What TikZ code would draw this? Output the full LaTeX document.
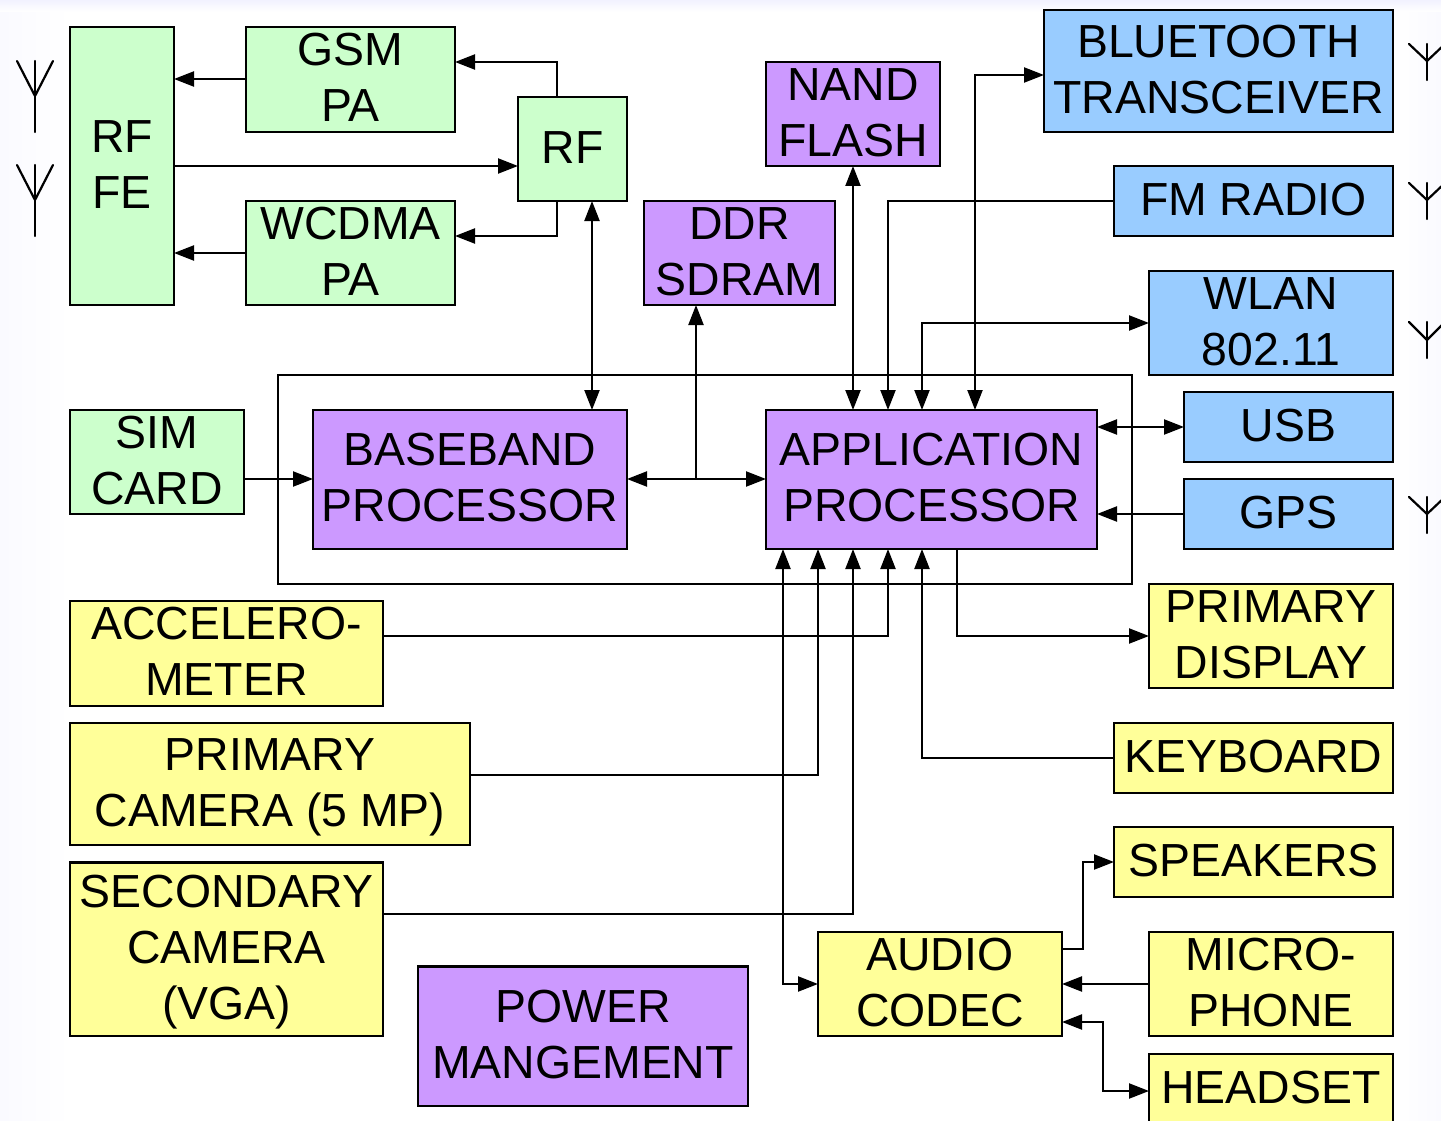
\documentclass[tikz,border=0pt]{standalone}
\usepackage{fontspec}
\setmainfont{Liberation Sans}
\usetikzlibrary{arrows.meta,calc}
\definecolor{cgreen}{HTML}{CCFFCC}
\definecolor{cpurple}{HTML}{CC99FF}
\definecolor{cblue}{HTML}{99CCFF}
\definecolor{cyellow}{HTML}{FFFF99}
\tikzset{
  box/.style={draw=black,line width=2.2pt,inner sep=0pt,outer sep=0pt,text=black,font=\fontsize{46.4}{56}\selectfont},
  gbox/.style={box,fill=cgreen},
  pbox/.style={box,fill=cpurple},
  bbox/.style={box,fill=cblue},
  ybox/.style={box,fill=cyellow},
  conn/.style={draw=black,line width=2.2pt},
  arr/.style={conn,-{Triangle[length=20pt,width=15pt]}},
  biarr/.style={conn,{Triangle[length=20pt,width=15pt]}-{Triangle[length=20pt,width=15pt]}},
  ant/.style={draw=black,line width=2.2pt,line cap=round},
}
\newsavebox{\lblbox}
\newcommand{\bx}[7]{% style,name,x1,y1,x2,y2,text
  \pgfmathsetmacro{\bw}{#5-#3}\pgfmathsetmacro{\bh}{#6-#4}
  \pgfmathsetmacro{\bcx}{(#3+#5)/2}\pgfmathsetmacro{\bcy}{(#4+#6)/2}
  \node[#1,minimum width=\bw pt,minimum height=\bh pt] (#2) at (\bcx,\bcy) {\sbox{\lblbox}{\begin{tabular}{@{}c@{}}#7\end{tabular}}\smash{\raisebox{\dimexpr(\dp\lblbox-\ht\lblbox)/2-3.1pt\relax}{\usebox{\lblbox}}}};}
\newcommand{\antenna}[5]{% cx, top, joint, bottom, half-width
  \draw[ant] (#1,#4) -- (#1,#2);
  \draw[ant] (#1-#5,#2) -- (#1,#3) -- (#1+#5,#2);}
\begin{document}
\begin{tikzpicture}[x=1pt,y=-1pt]
\useasboundingbox (0,0) rectangle (1441,1121);
\clip (0,0) rectangle (1441,1121);
\fill[white] (0,0) rectangle (1441,1121);
\shade[left color=blue!2!white,right color=white] (0,0) rectangle (70,1121);
\shade[left color=white,right color=blue!2!white] (1395,0) rectangle (1441,1121);
\shade[top color=blue!5!white,bottom color=white] (0,0) rectangle (1441,12);
% outer frame
\node[draw=black,line width=2.2pt,inner sep=0pt,outer sep=0pt,minimum width=854pt,minimum height=209pt] (frame) at (705,479.5) {};
% boxes
\bx{gbox}{rffe}{70}{27}{174}{305}{RF\\FE}
\bx{gbox}{gsm}{246}{27}{455}{132}{GSM\\PA}
\bx{gbox}{wcdma}{246}{201}{455}{305}{WCDMA\\PA}
\bx{gbox}{rf}{518}{97}{627}{201}{RF}
\bx{pbox}{ddr}{644}{201}{835}{305}{DDR\\SDRAM}
\bx{pbox}{nand}{766}{62}{940}{166}{NAND\\FLASH}
\bx{bbox}{bt}{1044}{10}{1393}{132}{BLUETOOTH\\TRANSCEIVER}
\bx{bbox}{fm}{1114}{166}{1393}{236}{FM RADIO}
\bx{bbox}{wlan}{1149}{271}{1393}{375}{WLAN\\802.11}
\bx{gbox}{sim}{70}{410}{244}{514}{SIM\\CARD}
\bx{pbox}{bb}{313}{410}{627}{549}{BASEBAND\\PROCESSOR}
\bx{pbox}{ap}{766}{410}{1097}{549}{APPLICATION\\PROCESSOR}
\bx{bbox}{usb}{1184}{392}{1393}{462}{USB}
\bx{bbox}{gps}{1184}{479}{1393}{549}{GPS}
\bx{ybox}{acc}{70}{601}{383}{706}{ACCELERO-\\METER}
\bx{ybox}{camp}{70}{723}{470}{845}{PRIMARY\\CAMERA (5 MP)}
\bx{ybox}{cams}{70}{862.5}{383}{1036}{SECONDARY\\CAMERA\\(VGA)}
\bx{pbox}{pwr}{418}{966.5}{748}{1106}{POWER\\MANGEMENT}
\bx{ybox}{codec}{818}{932}{1062}{1036}{AUDIO\\CODEC}
\bx{ybox}{disp}{1149}{584}{1393}{688}{PRIMARY\\DISPLAY}
\bx{ybox}{kbd}{1114}{723}{1393}{793}{KEYBOARD}
\bx{ybox}{spk}{1114}{827}{1393}{897}{SPEAKERS}
\bx{ybox}{mic}{1149}{932}{1393}{1036}{MICRO-\\PHONE}
\bx{ybox}{hs}{1149}{1054}{1393}{1124}{HEADSET}
% RF section
\draw[arr] ([yshift=0.5pt]gsm.west) -- ([yshift=0.5pt]rffe.east |- gsm.west);
\draw[arr] (wcdma.west) -- (rffe.east |- wcdma.west);
\draw[arr] (rffe.east) -- (rf.west |- rffe.east);
\draw[arr] ([xshift=-15.5pt]rf.north) |- ([yshift=17.5pt]gsm.east);
\draw[arr] ([xshift=-15.5pt]rf.south) |- ([yshift=17pt]wcdma.east);
\draw[biarr] ([xshift=19.5pt]rf.south) -- ([xshift=19.5pt]rf.south |- bb.north);
% processors
\draw[arr] ([yshift=0.5pt]sim.east |- bb.west) -- ([yshift=0.5pt]bb.west);
\draw[biarr] ([yshift=0.5pt]bb.east) -- ([yshift=0.5pt]ap.west);
\draw[arr] ([xshift=-43.5pt,yshift=0.5pt]ddr.south |- bb.east) -- ([xshift=-43.5pt]ddr.south);
\draw[biarr] (nand.south) -- (nand.south |- ap.north);
\draw[arr] (fm.west) -| ([xshift=-43.5pt]ap.north);
\draw[biarr] ([xshift=-9.5pt]ap.north) |- (wlan.west);
\draw[biarr] ([xshift=43.5pt]ap.north) |- ([yshift=-4pt]bt.west);
\draw[biarr] (ap.east |- usb.west) -- (usb.west);
\draw[arr] (gps.west) -- (ap.east |- gps.west);
% peripherals
\draw[arr] ([yshift=17.5pt]acc.east) -| ([xshift=-43.5pt]ap.south);
\draw[arr] ([yshift=9pt]camp.east) -| ([xshift=-113.5pt]ap.south);
\draw[arr] ([yshift=35.25pt]cams.east) -| ([xshift=-78.5pt]ap.south);
\draw[arr] (kbd.west) -| ([xshift=-9.5pt]ap.south);
\draw[arr] ([xshift=25.5pt]ap.south) |- (disp.west);
\draw[biarr] ([xshift=-148.5pt]ap.south) |- (codec.west);
% audio
\draw[arr] ([yshift=35pt]codec.east) -- ++(21,0) |- (spk.west);
\draw[arr] (mic.west) -- (codec.east);
\draw[biarr] ([yshift=-38pt]codec.east) -- ++(41,0) |- ([yshift=-2pt]hs.west);
% antennas
\antenna{35}{61}{96}{132}{18}
\antenna{35}{165}{200}{236}{18}
\antenna{1427}{44}{61}{80}{18}
\antenna{1427}{183}{200}{219}{18}
\antenna{1427}{322}{340}{358}{18}
\antenna{1427}{497}{514}{533}{18}
\end{tikzpicture}
\end{document}
